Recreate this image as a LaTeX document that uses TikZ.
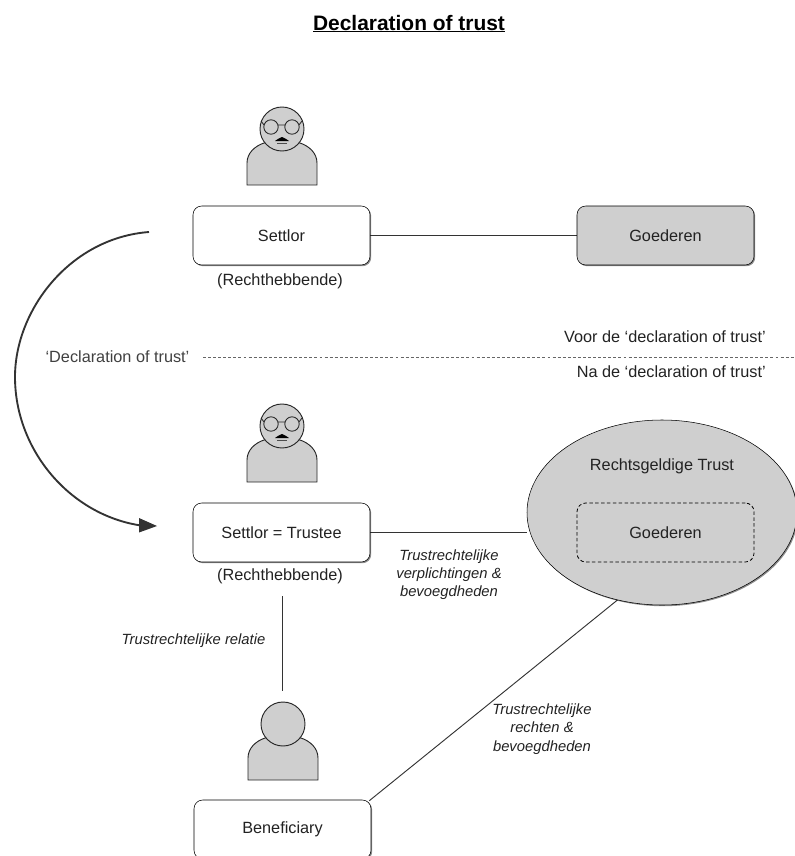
\documentclass[tikz,border=0pt]{standalone}
\usepackage{fontspec}
\setmainfont{Liberation Sans}
\usetikzlibrary{shapes.geometric,shadows,backgrounds}
\definecolor{fillgray}{HTML}{CFCFCF}
\definecolor{ink}{HTML}{222222}
\tikzset{
  flatbox/.style={draw=black,rounded corners=6.5pt,minimum width=132.75pt,minimum height=44.25pt,inner sep=0pt,font=\fontsize{12.2}{14}\selectfont,text=ink},
  box/.style={flatbox,
     drop shadow={shadow xshift=0.9pt,shadow yshift=-0.9pt,fill=black,opacity=0.45}},
  plain/.style={font=\fontsize{12.2}{14}\selectfont,text=ink,inner sep=0pt},
  note/.style={font=\fontsize{11.1}{13.7}\selectfont\itshape,text=ink,inner sep=0pt,align=center},
  link/.style={draw=black!80,line width=0.7pt},
  person line/.style={draw=black!85,line width=0.7pt},
  pics/personbody/.style={code={
    \draw[person line,fill=fillgray] (-35,56)--(-35,34) .. controls (-35,24) and (-27,17) .. (-18,14) -- (18,14) .. controls (27,17) and (35,24) .. (35,34) -- (35,56) -- cycle;
    \draw[person line,fill=fillgray] (0,0) circle[radius=22];
  }},
  pics/glasses/.style={code={
    \draw[person line,line width=0.65pt] (-11,-2) circle[radius=7.2] (10,-2) circle[radius=7.2]
      (-4,-4)--(3,-4) (-18,-4)--(-21,-8) (17,-4)--(20,-8);
    \fill[black] (-7,12) .. controls (-4,11) and (-3,8) .. (0,8) .. controls (3,8) and (4,11) .. (7,12) -- cycle;
    \draw[black!70,line width=0.4pt] (-5,14)--(5,14);
  }}
}
\begin{document}
\begin{tikzpicture}[x=0.75pt,y=-0.75pt]
\useasboundingbox (0,0) rectangle (795,856);
\node[font=\fontsize{15.7}{18}\selectfont\bfseries,inner sep=0pt] (title) at (409,23) {Declaration of trust};
\coordinate (ulA) at (313,31.5); \coordinate (ulB) at (505,31.5);
\draw[black,line width=0.9pt] (ulA) -- (ulB);

\pic at (282,129) {personbody}; \pic at (282,129) {glasses};
\pic at (282,426) {personbody}; \pic at (282,426) {glasses};
\pic at (283,724) {personbody};

\node[box,fill=white,text width=130pt,align=center] (settlor) at (281.5,235.5) {Settlor};
\node[box,fill=fillgray] (goed) at (665.5,235.5) {Goederen};
\node[box,fill=white] (st) at (281.5,532.5) {Settlor = Trustee};
\node[box,fill=white] (ben) at (282.5,829.5) {Beneficiary};

\node[ellipse,draw=black,fill=fillgray,minimum width=202.5pt,minimum height=138.75pt,inner sep=0pt,
      drop shadow={shadow xshift=0.9pt,shadow yshift=-0.9pt,fill=black,opacity=0.45}] (trust) at (662,512.5) {};
\node[plain] (trustlabel) at (662,466) {Rechtsgeldige Trust};
\node[flatbox,line width=0.6pt,dashed,dash pattern=on 2.6pt off 1.8pt] (goed2) at (665.5,532.5) {Goederen};

\node[plain] (rh1) at (280,281) {(Rechthebbende)};
\node[plain] (rh2) at (280,576) {(Rechthebbende)};
\node[plain,text=black!75] (decl) at (117.5,356.5) {‘Declaration of trust’};
\node[plain,anchor=east] (voor) at (766,337) {Voor de ‘declaration of trust’};
\node[plain,anchor=east] (na) at (766,372) {Na de ‘declaration of trust’};
\node[note] (n1) at (449,574.5) {Trustrechtelijke\\verplichtingen \&\\bevoegdheden};
\node[note] (n2) at (542,729) {Trustrechtelijke\\rechten \&\\bevoegdheden};
\node[note] (n3) at (193.5,641) {Trustrechtelijke relatie};

\coordinate (dashA) at (203,357.5); \coordinate (dashB) at (795,357.5);
\coordinate (relA) at (282,596); \coordinate (relB) at (282,691);
\coordinate (arcA) at (149,232); \coordinate (arcB) at (157,526);

\begin{scope}[on background layer]
\draw[link] (settlor.east) -- (goed.west);
\draw[link] (st.east) -- (st.east -| trust.west);
\draw[link] (ben.north east) ++(-2,1) -- (trust.243.7);
\end{scope}
\draw[link] (relA) -- (relB);
\draw[black!60,line width=0.6pt,dashed,dash pattern=on 2.2pt off 1.6pt] (dashA) -- (dashB);
\draw[draw=black!80,line width=1.4pt] (arcA) .. controls (70,238) and (15,310) .. (15,377) .. controls (15,450) and (70,515) .. (141,525.5);
\fill[black!80] (arcB) -- (139,518) -- (139,532.5) -- cycle;
\end{tikzpicture}
\end{document}
